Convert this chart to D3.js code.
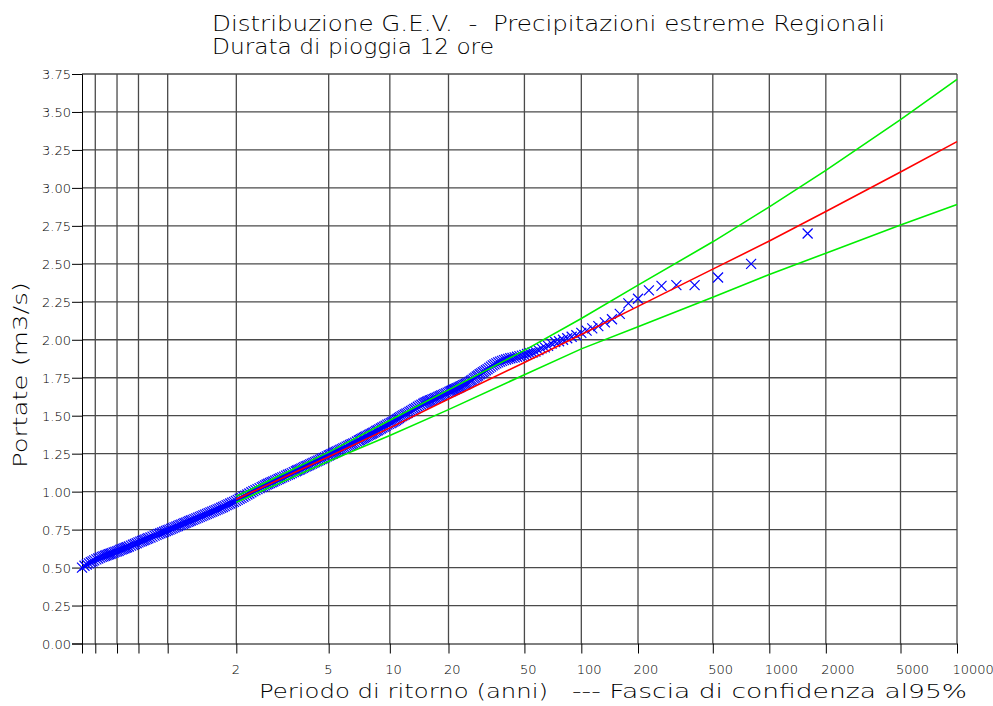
<!DOCTYPE html>
<html><head><meta charset="utf-8">
<script src="https://cdn.jsdelivr.net/npm/d3@7"></script>
<style>
html,body{margin:0;padding:0;background:#fff;}
svg{display:block;background:#fff;}
text{font-family:"DejaVu Sans",sans-serif;font-weight:200;fill:#000;}
</style></head><body>
<svg id="chart" width="993" height="706"></svg>
<script>
// ---------- data ----------
const titleLine1 = "Distribuzione G.E.V.  -  Precipitazioni estreme Regionali";
const titleLine2 = "Durata di pioggia 12 ore";
const xAxisTitle = "Periodo di ritorno (anni)";
const legendText = "--- Fascia di confidenza al95%";
const yAxisTitle = "Portate (m3/s)";

// vertical grid / x ticks (return periods, years) and their labels
const gridReturnPeriods = [1.0101, 1.0204, 1.0526, 1.1111, 1.25, 2, 5, 10, 20, 50, 100, 200, 500, 1000, 2000, 5000, 10000];
const gridLabels = ["", "", "", "", "", "2", "5", "10", "20", "50", "100", "200", "500", "1000", "2000", "5000", "10000"];
const yTicks = [0, 0.25, 0.5, 0.75, 1, 1.25, 1.5, 1.75, 2, 2.25, 2.5, 2.75, 3, 3.25, 3.5, 3.75];

// fitted G.E.V. curve and 95% confidence band (return period -> value)
const fitReturnPeriods = [2, 5, 10, 20, 50, 100, 200, 500, 1000, 2000, 5000, 10000];
const fitValues   = [0.95, 1.23, 1.42, 1.61, 1.85, 2.035, 2.22, 2.465, 2.65, 2.845, 3.105, 3.305];
const upperValues = [0.97, 1.26, 1.47, 1.67, 1.93, 2.14, 2.36, 2.645, 2.875, 3.115, 3.45, 3.715];
const lowerValues = [0.93, 1.20, 1.37, 1.54, 1.77, 1.94, 2.085, 2.28, 2.43, 2.57, 2.755, 2.89];

// observed sample: non-exceedance frequency of each plotted point and its value
const obsFrequency = [
  0.010,0.0115,0.013,0.0145,0.016,0.0175,0.019,
  0.021,0.023,0.025,0.027,0.029,0.031,0.033,0.035,0.037,0.039,0.041,
  0.044,0.047,0.050,0.053,0.056,0.059,0.062,0.065,0.068,0.071,
  0.075,0.080,0.085,0.090,0.095,0.100,0.105,0.110,0.115,0.120,0.125,0.130,
  0.137,0.144,0.151,0.158,0.165,0.172,0.179,0.186,0.193,0.200,0.207,0.214,0.221,0.228,0.235,0.242,0.249,0.256,0.263,0.270,0.277,0.284,0.291,0.298,
  0.306,0.314,0.322,0.330,0.338,0.346,0.354,0.362,0.370,0.378,0.386,0.394,0.402,0.410,0.418,0.426,0.434,0.442,0.450,0.458,0.466,0.474,0.482,0.490,0.498,0.506,0.514,0.522,0.530,0.538,0.546,0.554,0.562,0.570,0.578,0.586,0.594,0.602,
  0.608,0.614,0.620,0.626,0.632,0.638,0.644,0.650,0.656,0.662,0.668,0.674,0.680,0.686,0.692,0.698,0.704,0.710,0.716,
  0.720,0.724,0.728,0.732,0.736,0.740,0.744,0.748,0.752,0.756,0.760,0.764,0.768,0.772,0.776,0.780,0.784,0.788,0.792,0.796,0.800,
  0.803,0.806,0.809,0.812,0.815,0.818,0.821,0.824,0.827,0.830,0.833,0.836,0.839,0.842,0.845,0.848,0.851,0.854,0.857,
  0.859,0.861,0.863,0.865,0.867,0.869,0.871,0.873,0.875,0.877,0.879,0.881,0.883,0.885,0.887,0.889,0.891,0.893,0.895,0.897,0.899,0.901,
  0.9025,0.904,0.9055,0.907,0.9085,0.91,0.9115,0.913,0.9145,0.916,0.9175,0.919,0.9205,0.922,0.9235,0.925,0.9265,0.928,0.9295,0.931,0.9325,
  0.9335,0.9345,0.9355,0.9365,0.9375,0.9385,0.9395,0.9405,0.9415,0.9425,0.9435,0.9445,0.9455,0.9465,0.9475,0.9485,0.9495,0.9505,
  0.95125,0.951875,0.9525,0.953125,0.95375,0.954375,0.955,0.955625,0.95625,0.956875,0.9575,0.958125,0.95875,0.959375,0.96,0.960625,0.96125,0.961875,0.9625,0.963125,0.96375,0.964375,0.965,0.965625,0.96625,0.966875,0.9675,0.968125,0.96875,0.969375,0.97,0.970625,0.97125,0.971875,0.9725,0.973125,0.97375,0.974375,0.975,0.975625,0.97625,0.976875,0.9775,0.978125,0.97875,0.979375,0.98,0.980625,0.98125,0.981875,0.9825,0.983125,0.98375,0.984375,
  0.985,0.985625,0.98625,0.986875,0.9875,0.988125,0.98875,0.989375,0.99,0.990625,0.99125,0.991875,0.9925,0.993125,0.99375,0.994375,0.995,0.995625,0.99625,0.996875,0.9975,0.998125,0.99875,0.999375
];
const obsValues = [
  0.50,0.512,0.52,0.528,0.535,0.541,0.547,
  0.554,0.56,0.565,0.57,0.574,0.578,0.581,0.585,0.588,0.591,0.595,
  0.599,0.603,0.607,0.611,0.616,0.62,0.623,0.627,0.631,0.634,
  0.639,0.644,0.65,0.655,0.66,0.666,0.671,0.675,0.68,0.684,0.689,0.693,
  0.698,0.704,0.71,0.715,0.721,0.726,0.731,0.736,0.741,0.746,0.75,0.755,0.76,0.765,0.77,0.774,0.779,0.783,0.788,0.792,0.796,0.801,0.805,0.81,
  0.814,0.819,0.824,0.829,0.834,0.839,0.844,0.849,0.854,0.858,0.863,0.868,0.873,0.878,0.883,0.888,0.894,0.899,0.905,0.911,0.916,0.922,0.928,0.933,0.939,0.946,0.953,0.959,0.966,0.974,0.981,0.988,0.996,1.003,1.01,1.017,1.023,1.03,
  1.035,1.041,1.047,1.052,1.057,1.062,1.067,1.072,1.077,1.083,1.088,1.094,1.099,1.105,1.111,1.116,1.122,1.128,1.134,
  1.139,1.143,1.147,1.152,1.156,1.161,1.166,1.17,1.175,1.179,1.184,1.189,1.194,1.199,1.204,1.209,1.215,1.22,1.226,1.232,1.238,
  1.242,1.247,1.251,1.256,1.261,1.265,1.27,1.275,1.28,1.285,1.29,1.296,1.301,1.307,1.312,1.317,1.323,1.33,1.337,
  1.341,1.346,1.35,1.355,1.36,1.364,1.369,1.374,1.378,1.383,1.388,1.393,1.399,1.404,1.41,1.416,1.422,1.428,1.434,1.441,1.446,1.451,
  1.456,1.461,1.466,1.472,1.478,1.485,1.491,1.497,1.502,1.508,1.514,1.519,1.525,1.531,1.538,1.544,1.551,1.559,1.566,1.572,1.579,
  1.584,1.588,1.592,1.596,1.6,1.603,1.607,1.611,1.615,1.619,1.624,1.628,1.633,1.637,1.642,1.647,1.652,1.657,
  1.661,1.664,1.668,1.671,1.674,1.678,1.681,1.685,1.689,1.693,1.696,1.701,1.705,1.709,1.713,1.718,1.724,1.73,1.736,1.744,1.751,1.758,1.765,1.773,1.779,1.786,1.792,1.799,1.807,1.815,1.823,1.831,1.838,1.845,1.851,1.856,1.861,1.866,1.87,1.874,1.878,1.881,1.884,1.888,1.892,1.896,1.90,1.906,1.911,1.916,1.922,1.932,1.943,1.95,
  1.96,1.975,1.985,1.99,2.00,2.01,2.02,2.03,2.045,2.06,2.075,2.09,2.115,2.135,2.17,2.24,2.27,2.325,2.355,2.36,2.36,2.41,2.50,2.70
];

// ---------- scales ----------
// Gumbel probability paper: x is the reduced variate of the non-exceedance frequency
const reducedF = F => -Math.log(-Math.log(F));
const freqOfT = T => 1 - 1 / T;
const xg = d3.scaleLinear().domain([reducedF(freqOfT(1.0101)), reducedF(freqOfT(10000))]).range([82, 957]);
const xT = T => xg(reducedF(freqOfT(T)));
const xF = F => xg(reducedF(F));
const y = d3.scaleLinear().domain([0, 3.75]).range([643.5, 74]);

const svg = d3.select("#chart");

// ---------- grid ----------
const grid = svg.append("g").attr("stroke", "#4a4a4a").attr("stroke-width", 1.3).attr("fill", "none");
grid.selectAll("line.h").data(yTicks.slice(1)).join("line").attr("class", "h")
  .attr("x1", 82).attr("x2", 957).attr("y1", d => y(d)).attr("y2", d => y(d));
grid.selectAll("line.v").data(gridReturnPeriods.slice(1)).join("line").attr("class", "v")
  .attr("x1", d => xT(d)).attr("x2", d => xT(d)).attr("y1", y(3.75)).attr("y2", y(0));

// ---------- axes ----------
const yAxis = d3.axisLeft(y).tickValues(yTicks).tickFormat(d3.format(".2f")).tickSize(10).tickPadding(1);
const gy = svg.append("g").attr("transform", "translate(82,0)").call(yAxis);
gy.select(".domain").attr("stroke", "#000");
gy.selectAll("text").attr("font-family", null).attr("font-size", 13).attr("dy", "0.36em");

const gridG = gridReturnPeriods.map(T => reducedF(freqOfT(T)));
const xAxis = d3.axisBottom(xg).tickValues(gridG).tickFormat((d, i) => gridLabels[i]).tickSize(10).tickSizeOuter(0).tickPadding(11);
const gx = svg.append("g").attr("transform", `translate(0,${y(0)})`).call(xAxis);
gx.select(".domain").attr("stroke", "#000");
gx.selectAll("text").attr("font-family", null).attr("font-size", 13)
  .attr("text-anchor", "start").attr("dx", -5);

// ---------- observations ----------
const n = Math.min(obsFrequency.length, obsValues.length);
const obs = obsFrequency.slice(0, n).map((F, i) => ({F, v: obsValues[i]}));
svg.append("g").selectAll("path").data(obs).join("path")
  .attr("transform", d => `translate(${xF(d.F)},${y(d.v)})`)
  .attr("d", "M-5,-5L5,5M-5,5L5,-5")
  .attr("stroke", "#0000ff").attr("stroke-width", 1.2).attr("fill", "none");

// ---------- fitted lines ----------
const line = d3.line().x(d => xT(d[0])).y(d => y(d[1]));
const series = [
  {vals: upperValues, color: "#00ee00"},
  {vals: lowerValues, color: "#00ee00"},
  {vals: fitValues, color: "#ff0000"}
];
svg.append("g").selectAll("path").data(series).join("path")
  .attr("d", s => line(fitReturnPeriods.map((T, i) => [T, s.vals[i]])))
  .attr("stroke", s => s.color).attr("stroke-width", 1.6).attr("fill", "none");

// ---------- texts ----------
svg.append("text").attr("x", 212).attr("y", 31).attr("font-size", 21)
  .attr("textLength", 673).attr("lengthAdjust", "spacingAndGlyphs")
  .style("white-space", "pre").text(titleLine1);
svg.append("text").attr("x", 212).attr("y", 54).attr("font-size", 21)
  .attr("textLength", 282).attr("lengthAdjust", "spacingAndGlyphs")
  .style("white-space", "pre").text(titleLine2);
svg.append("text").attr("x", 259).attr("y", 698).attr("font-size", 20)
  .attr("textLength", 289).attr("lengthAdjust", "spacingAndGlyphs").text(xAxisTitle);
svg.append("text").attr("x", 572).attr("y", 698).attr("font-size", 20)
  .attr("textLength", 395).attr("lengthAdjust", "spacingAndGlyphs").text(legendText);
svg.append("text").attr("transform", "translate(27,468) rotate(-90)").attr("font-size", 20)
  .attr("textLength", 186).attr("lengthAdjust", "spacingAndGlyphs").text(yAxisTitle);
</script>
</body></html>
